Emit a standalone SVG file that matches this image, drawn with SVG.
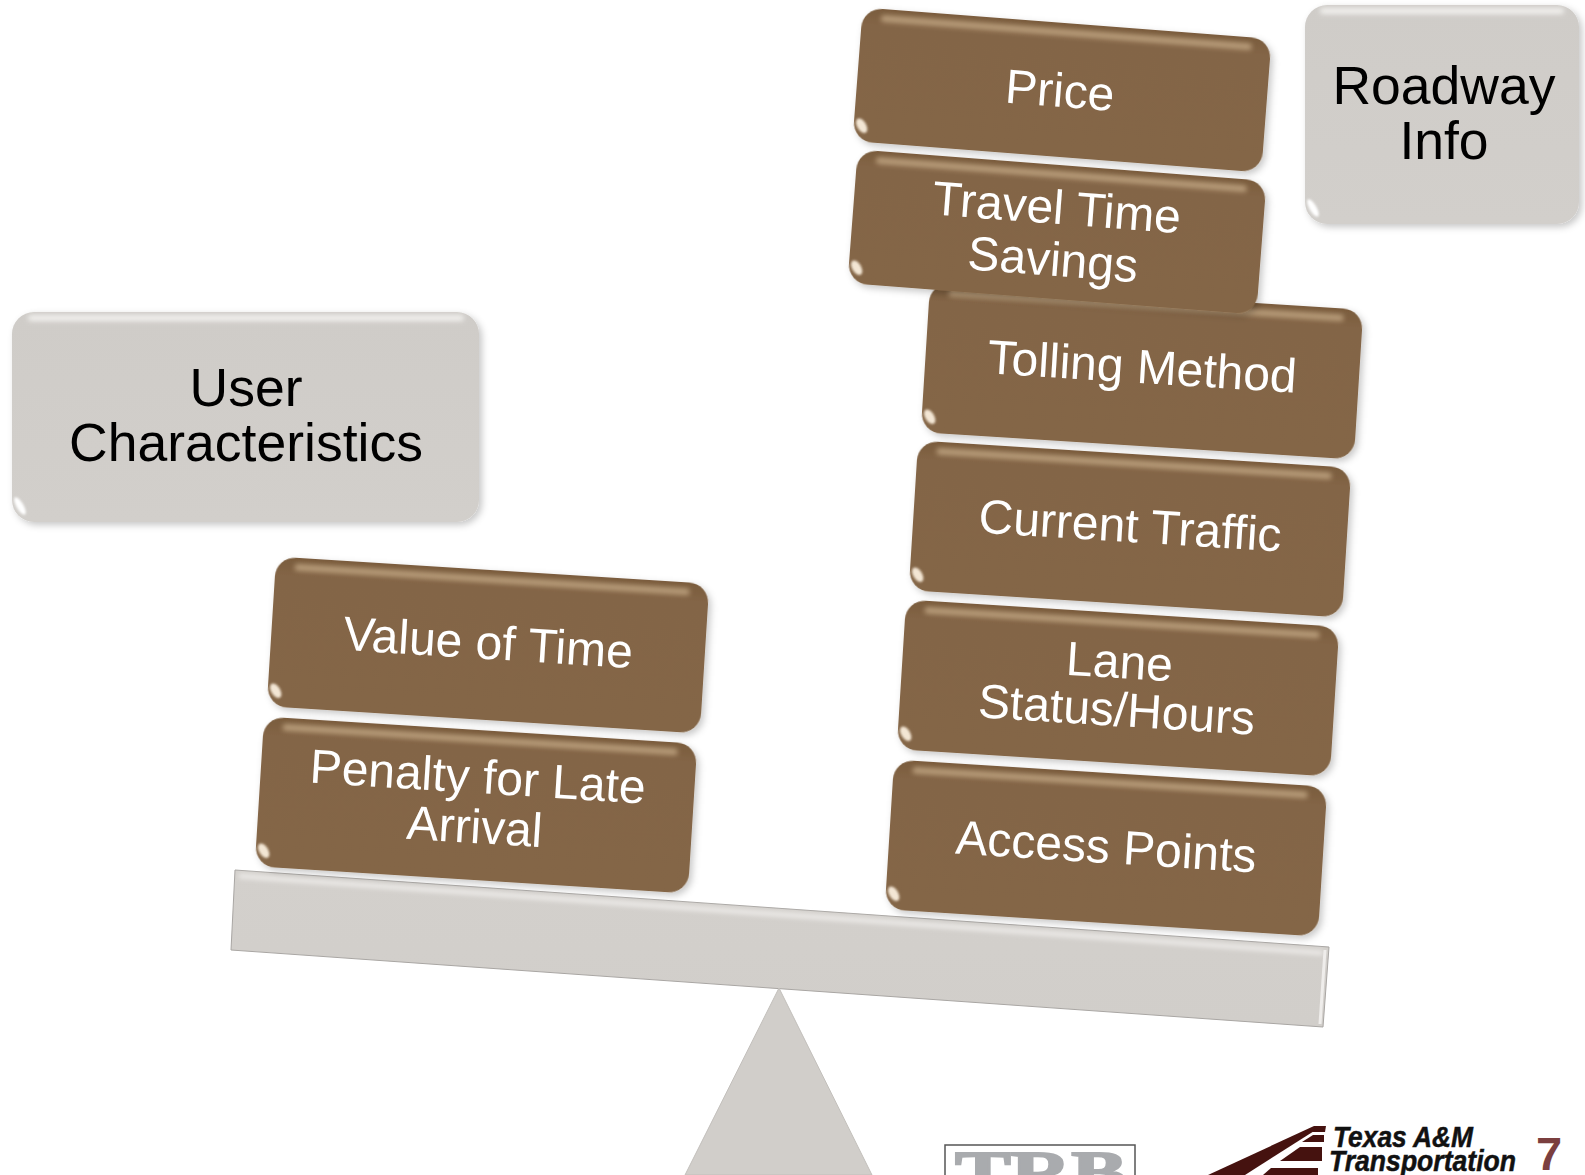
<svg xmlns="http://www.w3.org/2000/svg" width="1585" height="1175" viewBox="0 0 1585 1175">
<style>
text{font-family:"Liberation Sans",Arial,sans-serif;text-anchor:middle}
.b{fill:#fff;font-size:48px}
.g{fill:#000;font-size:53.5px}
.body{fill:url(#bf);filter:url(#sh)}
.gbody{fill:url(#gf);filter:url(#sh)}
.hl{fill:#c9ae8b;opacity:.75;filter:url(#bl)}
.ghl{fill:#f6f5f3;opacity:.9;filter:url(#bl)}
.edge{fill:none;stroke:#cdb596;stroke-width:2.500;filter:url(#bs)}
.gedge{fill:none;stroke:#efeeec;stroke-width:2;filter:url(#bs)}
.gl{fill:#f3e6d4;filter:url(#bs)}
.ggl{fill:#fff;filter:url(#bs)}
.logo{fill:#45120f}
.tti{font-weight:bold;font-style:italic;font-size:29px;text-anchor:start;fill:#111;stroke:#111;stroke-width:.5}
</style>
<defs>
<linearGradient id="bf" x1="0" y1="0" x2="0" y2="1"><stop offset="0" stop-color="#7a5c3d"/><stop offset=".12" stop-color="#836546"/><stop offset="1" stop-color="#846646"/></linearGradient>
<linearGradient id="gf" x1="0" y1="0" x2="0" y2="1"><stop offset="0" stop-color="#cfccc8"/><stop offset="1" stop-color="#d2cfcb"/></linearGradient>
<linearGradient id="bm" x1="0" y1="0" x2="0" y2="1"><stop offset="0" stop-color="#d3d0cc"/><stop offset="1" stop-color="#d1ceca"/></linearGradient>
<filter id="sh" x="-5%" y="-10%" width="112%" height="125%"><feDropShadow dx="3" dy="3" stdDeviation="3.500" flood-color="#000" flood-opacity=".22"/></filter>
<filter id="bl" x="-5%" y="-150%" width="110%" height="400%"><feGaussianBlur stdDeviation="2.800"/></filter>
<filter id="bs" x="-100%" y="-30%" width="300%" height="160%"><feGaussianBlur stdDeviation="1.200"/></filter>
</defs>

<g id="beam">
<polygon points="235,870 1329,947 1323,1027 231,950" fill="url(#bm)" stroke="#a9a6a3" stroke-width="1"/>
<polygon points="239,874 1323,951 1323,955 239,878" fill="#f2f0ee" filter="url(#bl)"/>
<path d="M1325,950L1320,1024" stroke="#efedeb" stroke-width="3" fill="none"/>
</g>
<g id="fulcrum">
<polygon points="779,988 872,1175 685,1175" fill="#d1ceca" stroke="#c2bfbb" stroke-width="1"/>
</g>

<g id="user-characteristics">
<rect class="gbody" x="12" y="312" width="467" height="210" rx="22"/>
<rect class="ghl" x="28" y="315" width="436" height="6" rx="3"/>
<path class="gedge" d="M477,334V500"/>
<ellipse class="ggl" cx="20" cy="506" rx="3.500" ry="10" transform="rotate(-30 20 506)"/>
<text class="g" x="246" y="406">User</text>
<text class="g" x="246" y="461">Characteristics</text>
</g>

<g id="roadway-info">
<rect class="gbody" x="1305" y="5" width="274" height="219" rx="22"/>
<rect class="ghl" x="1320" y="8" width="244" height="6" rx="3"/>
<path class="gedge" d="M1577,27V202"/>
<ellipse class="ggl" cx="1313" cy="208" rx="3.500" ry="10" transform="rotate(-30 1313 208)"/>
<text class="g" x="1444" y="104">Roadway</text>
<text class="g" x="1444" y="159">Info</text>
</g>

<g id="tolling-method" transform="translate(1142 371) rotate(3.6)">
<rect class="body" x="-217" y="-75" width="434" height="150" rx="20"/>
<rect class="hl" x="-198" y="-69" width="396" height="7" rx="3.500"/>
<path class="edge" d="M215,-54V54"/>
<ellipse class="gl" cx="-209" cy="59" rx="4.500" ry="8" transform="rotate(-35 -209 59)"/>
<text class="b" x="0" y="12">Tolling Method</text>
</g>
<g id="current-traffic" transform="translate(1130 529) rotate(3.6)">
<rect class="body" x="-217" y="-75" width="434" height="150" rx="20"/>
<rect class="hl" x="-198" y="-69" width="396" height="7" rx="3.500"/>
<path class="edge" d="M215,-54V54"/>
<ellipse class="gl" cx="-209" cy="59" rx="4.500" ry="8" transform="rotate(-35 -209 59)"/>
<text class="b" x="0" y="13">Current Traffic</text>
</g>
<g id="lane-status" transform="translate(1118 688) rotate(3.6)">
<rect class="body" x="-217" y="-75" width="434" height="150" rx="20"/>
<rect class="hl" x="-198" y="-69" width="396" height="7" rx="3.500"/>
<path class="edge" d="M215,-54V54"/>
<ellipse class="gl" cx="-209" cy="59" rx="4.500" ry="8" transform="rotate(-35 -209 59)"/>
<text class="b" x="0" y="-10">Lane</text>
<text class="b" x="0" y="38">Status/Hours</text>
</g>
<g id="access-points" transform="translate(1106 848) rotate(3.6)">
<rect class="body" x="-217" y="-75" width="434" height="150" rx="20"/>
<rect class="hl" x="-198" y="-69" width="396" height="7" rx="3.500"/>
<path class="edge" d="M215,-54V54"/>
<ellipse class="gl" cx="-209" cy="59" rx="4.500" ry="8" transform="rotate(-35 -209 59)"/>
<text class="b" x="0" y="15">Access Points</text>
</g>
<g id="value-of-time" transform="translate(488 645) rotate(3.6)">
<rect class="body" x="-217" y="-75" width="434" height="150" rx="20"/>
<rect class="hl" x="-198" y="-69" width="396" height="7" rx="3.500"/>
<path class="edge" d="M215,-54V54"/>
<ellipse class="gl" cx="-209" cy="59" rx="4.500" ry="8" transform="rotate(-35 -209 59)"/>
<text class="b" x="0" y="14">Value of Time</text>
</g>
<g id="penalty" transform="translate(476 805) rotate(3.6)">
<rect class="body" x="-217" y="-75" width="434" height="150" rx="20"/>
<rect class="hl" x="-198" y="-69" width="396" height="7" rx="3.500"/>
<path class="edge" d="M215,-54V54"/>
<ellipse class="gl" cx="-209" cy="59" rx="4.500" ry="8" transform="rotate(-35 -209 59)"/>
<text class="b" x="0" y="-12">Penalty for Late</text>
<text class="b" x="0" y="38">Arrival</text>
</g>
<g id="price" transform="translate(1062 90) rotate(4.400)">
<rect class="body" x="-205" y="-67" width="410" height="134" rx="20"/>
<rect class="hl" x="-186" y="-61" width="372" height="7" rx="3.500"/>
<path class="edge" d="M203,-46V46"/>
<ellipse class="gl" cx="-197" cy="51" rx="4.500" ry="8" transform="rotate(-35 -197 51)"/>
<text class="b" x="-2" y="17">Price</text>
</g>
<g id="travel-time-savings" transform="translate(1057 232) rotate(4.400)">
<rect class="body" x="-205" y="-67" width="410" height="134" rx="20"/>
<rect class="hl" x="-186" y="-61" width="372" height="7" rx="3.500"/>
<path class="edge" d="M203,-46V46"/>
<ellipse class="gl" cx="-197" cy="51" rx="4.500" ry="8" transform="rotate(-35 -197 51)"/>
<text class="b" x="-2" y="-8">Travel Time</text>
<text class="b" x="-2" y="44">Savings</text>
</g>

<g id="trb-logo">
<rect x="945" y="1145" width="190" height="40" fill="#fff" stroke="#555" stroke-width="1.500"/>
<text x="1041" y="1193" style="font-family:'Liberation Serif',serif;font-weight:bold;font-size:62px;fill:#a9abae;stroke:#a9abae;stroke-width:2" textLength="172" lengthAdjust="spacingAndGlyphs">TRB</text>
</g>
<g id="tti-logo">
<polygon class="logo" points="1208,1175 1314,1126 1322,1126 1245,1175"/>
<polygon class="logo" points="1317,1126 1326,1126 1325,1132 1312,1132"/>
<polygon class="logo" points="1313,1135 1324,1135 1324,1142 1302,1142"/>
<polygon class="logo" points="1300,1147 1322,1147 1322,1161 1280,1161"/>
<polygon class="logo" points="1271,1168 1318,1168 1318,1175 1263,1175"/>
<text class="tti" x="1333" y="1147" textLength="140" lengthAdjust="spacingAndGlyphs">Texas A&amp;M</text>
<text class="tti" x="1329" y="1171" textLength="187" lengthAdjust="spacingAndGlyphs">Transportation</text>
</g>
<g id="page-number">
<text x="1549" y="1170" style="font-weight:bold;font-size:47px;fill:#7b3f3f">7</text>
</g>
</svg>
